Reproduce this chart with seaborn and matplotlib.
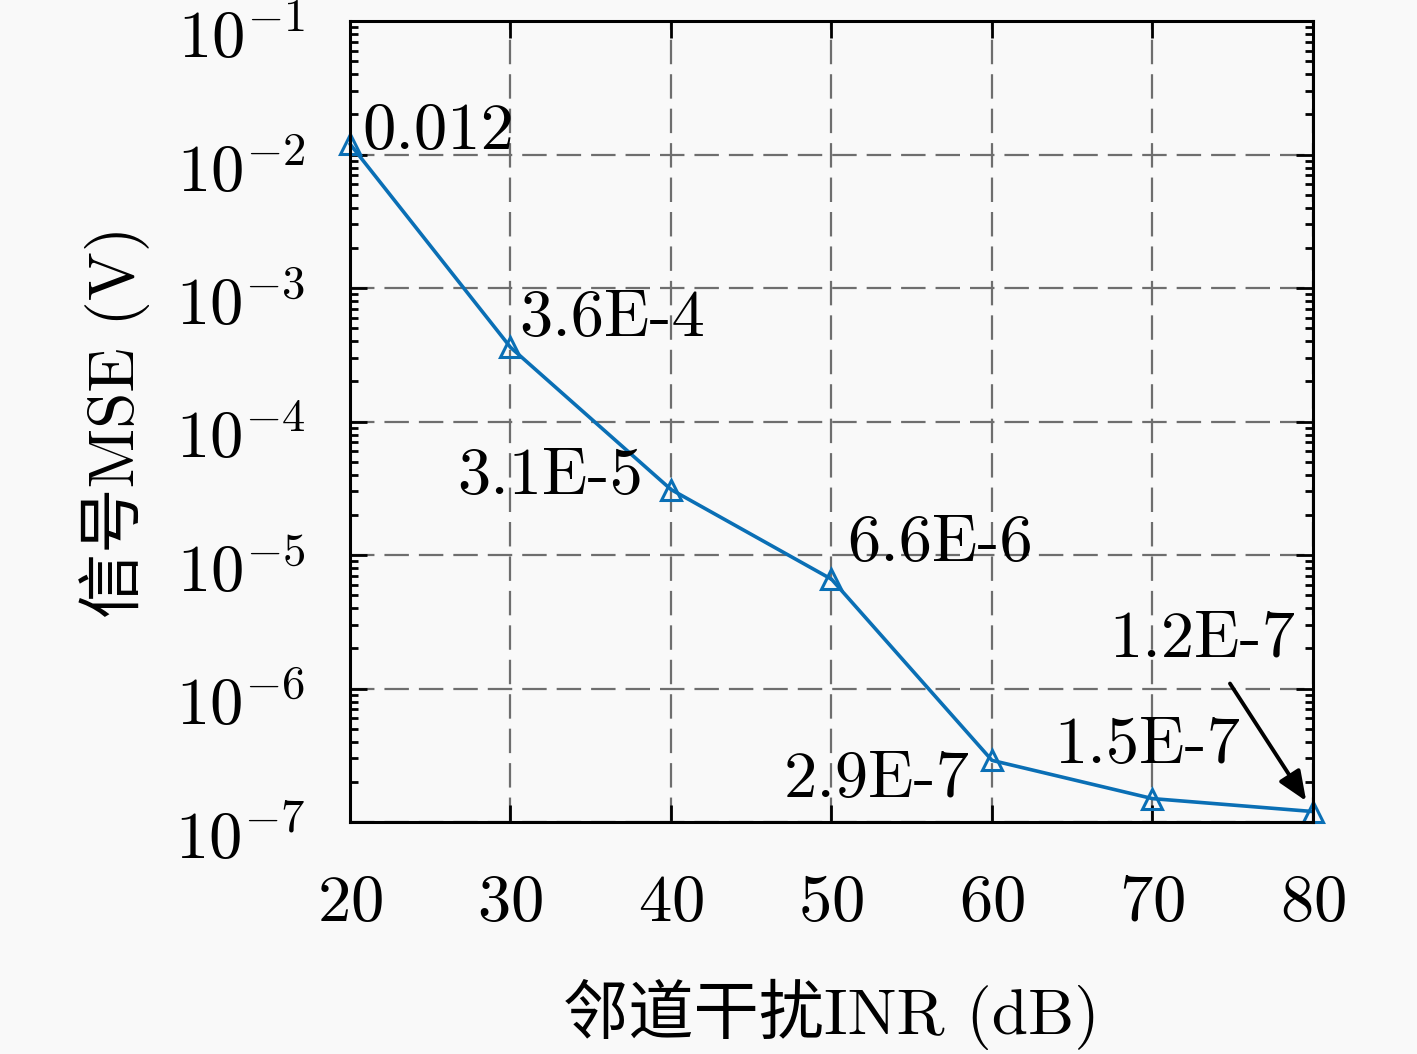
import matplotlib
matplotlib.use("Agg")
import matplotlib.pyplot as plt
import matplotlib.transforms as mtransforms
import seaborn as sns
import pandas as pd
import numpy as np
from matplotlib.ticker import LogLocator, FixedLocator, NullFormatter

inr_db = [20, 30, 40, 50, 60, 70, 80]
mse = [0.012, 3.6e-4, 3.1e-5, 6.6e-6, 2.9e-7, 1.5e-7, 1.2e-7]
labels = ["0.012", "3.6E-4", "3.1E-5", "6.6E-6", "2.9E-7", "1.5E-7", "1.2E-7"]
xlabel = "邻道干扰INR (dB)"
ylabel = "信号MSE (V)"

sns.set_style("ticks")
plt.rcParams["font.family"] = ["cmr10", "Noto Sans CJK SC", "DejaVu Sans"]
plt.rcParams["mathtext.fontset"] = "cm"
plt.rcParams["axes.formatter.use_mathtext"] = True
plt.rcParams["axes.unicode_minus"] = True
plt.rcParams["text.color"] = "black"
plt.rcParams["axes.labelcolor"] = "black"
plt.rcParams["xtick.color"] = "black"
plt.rcParams["ytick.color"] = "black"

df = pd.DataFrame({"x": inr_db, "y": mse})

fig = plt.figure(figsize=(14.17, 10.54), dpi=100, facecolor="#f9f9f9")
ax = fig.add_axes([0.247, 0.220, 0.6796, 0.760])
ax.set_facecolor("#f9f9f9")

color = "#0a6fb5"
sns.lineplot(data=df, x="x", y="y", ax=ax, color=color, lw=2.6,
             marker="^", markersize=15, markerfacecolor="none",
             markeredgecolor=color, markeredgewidth=2.2, clip_on=False)

ax.set_yscale("log")
ax.set_xlim(20, 80)
ax.set_ylim(1e-7, 1e-1)
ax.xaxis.set_major_locator(FixedLocator(inr_db))
ax.yaxis.set_major_locator(LogLocator(base=10, numticks=10))
ax.yaxis.set_minor_locator(LogLocator(base=10, subs=np.arange(2, 10), numticks=20))
ax.yaxis.set_minor_formatter(NullFormatter())

ax.grid(True, which="major", ls=(0, (11, 4.5)), color="#6e6e6e", lw=1.6)
for s in ax.spines.values():
    s.set_linewidth(2.2)
    s.set_color("black")
ax.tick_params(which="both", direction="in", top=True, right=True, width=2)
ax.tick_params(which="major", length=12, labelsize=48)
ax.tick_params(axis="x", which="major", pad=38)
ax.tick_params(axis="y", which="major", pad=32)
ax.tick_params(which="minor", length=6)

# shift y tick labels down slightly (exponent-centred like the reference)
shift = mtransforms.ScaledTranslation(0, -0.12, fig.dpi_scale_trans)
for lab in ax.get_yticklabels():
    lab.set_transform(lab.get_transform() + shift)

ax.set_xlabel(xlabel, fontsize=47, labelpad=32)
ax.set_ylabel(ylabel, fontsize=47, labelpad=18)

fs = 48
px = 72 / 100.0
offsets = [
    (12, 12, "left"),
    (9, 28, "left"),
    (-28, 12, "right"),
    (16, 35, "left"),
    (-22, -20, "right"),
    (-5, 52, "center"),
    (-111, 172, "center"),
]
for xv, yv, lab, (dx, dy, ha) in zip(inr_db, mse, labels, offsets):
    ax.annotate(lab, xy=(xv, yv), xytext=(dx * px, dy * px),
                textcoords="offset points", ha=ha, va="center",
                fontsize=fs, color="black", annotation_clip=False)

ax.annotate("", xy=(inr_db[-1], mse[-1]), xytext=(-83 * px, 128 * px),
            textcoords="offset points",
            arrowprops=dict(arrowstyle="-|>,head_length=1.8,head_width=0.75",
                            color="black", lw=2.8, shrinkA=0, shrinkB=9))

fig.savefig("out.png", dpi=100, facecolor=fig.get_facecolor())
